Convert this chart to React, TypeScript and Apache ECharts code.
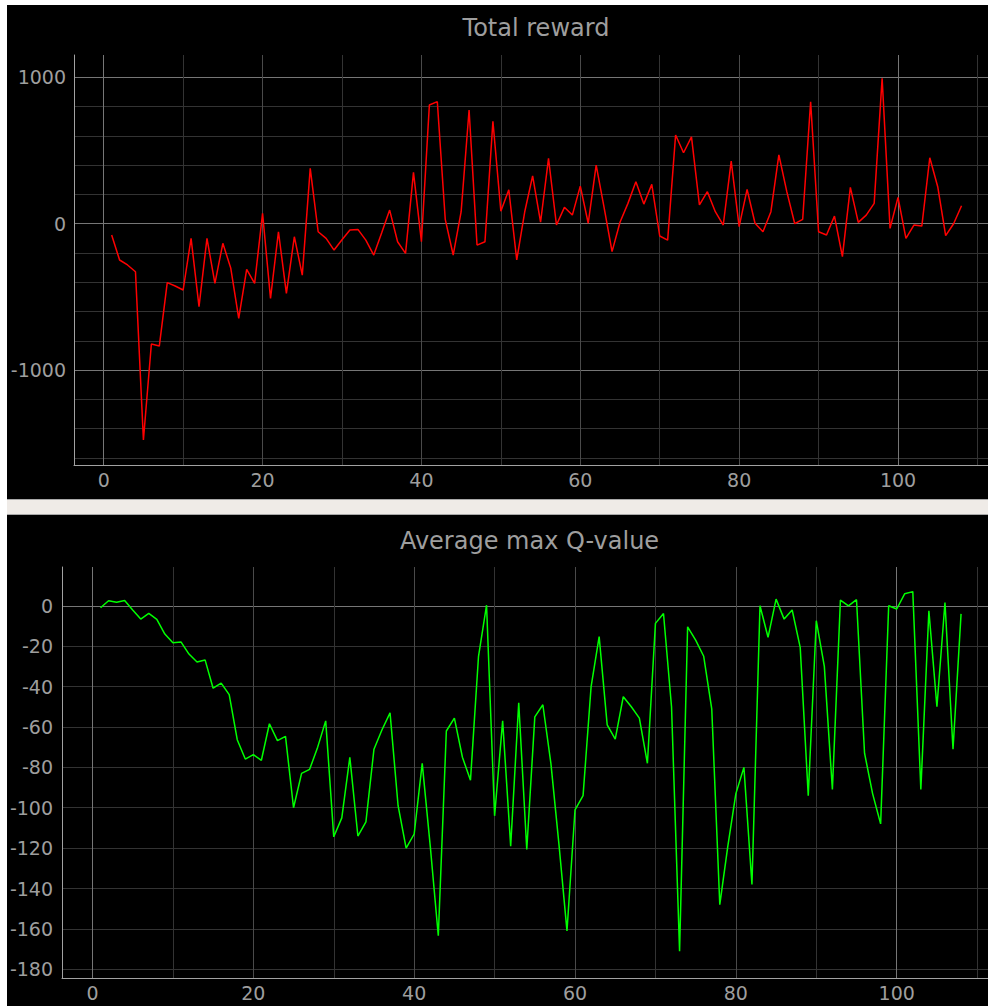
import React, { useEffect, useRef } from "react";
import * as echarts from "echarts";

// ---- data ----
const TOTAL_REWARD = [
  -77, -248, -282, -328, -1478, -822, -836, -403, -426, -453,
  -100, -567, -100, -408, -134, -305, -647, -312, -408, 71,
  -510, -55, -476, -89, -351, 378, -55, -100, -180, -110,
  -43, -39, -112, -214, -62, 93, -123, -203, 351, -123,
  811, 834, 30, -214, 82, 777, -146, -123, 700, 85,
  232, -248, 80, 327, 10, 446, -9, 112, 59, 257,
  3, 401, 110, -191, 10, 139, 287, 134, 269, -84,
  -112, 606, 485, 594, 128, 219, 82, -9, 428, -20,
  235, 3, -55, 82, 470, 219, 0, 30, 834, -55,
  -77, 52, -225, 248, 9, 59, 139, 993, -32, 180,
  -100, -9, -16, 451, 253, -82, 0, 123,
];

const AVG_MAX_Q = [
  -1, 2.5, 1.8, 2.6, -2.1, -6.6, -3.8, -6.7, -14, -18.3,
  -17.9, -23.9, -27.8, -26.8, -40.8, -38.3, -44, -66.3, -75.9, -73.7,
  -76.5, -58.4, -66.8, -64.7, -100, -83, -81, -70, -57, -114.4,
  -105, -75, -114, -107, -71, -61.4, -53, -99, -120, -113,
  -78, -119, -163.4, -62, -55.6, -75, -86.4, -25, 0.3, -104,
  -57, -119, -48, -120.7, -55, -49, -78, -118, -161, -101,
  -94, -40, -15.3, -59, -66, -45, -50, -55.6, -78, -8.7,
  -3.8, -50, -171, -10.4, -17, -25, -51, -148, -119, -93,
  -80, -138, 0, -15.6, 3.3, -6.6, -2.1, -20.6, -94, -7.4,
  -30, -91, 2.8, 0, 3, -73, -93, -108, 0, -1.6,
  6, 7, -91, -2.5, -50, 1.6, -71, -4,
];

const EPISODES = TOTAL_REWARD.map((_, i) => i + 1);

// tick labels
const X_LABELS = [0, 20, 40, 60, 80, 100];
const REWARD_Y_LABELS = [-1000, 0, 1000];
const Q_Y_LABELS = [0, -20, -40, -60, -80, -100, -120, -140, -160, -180];

// grid line levels
const X_GRID_BRIGHT = [0, 100];
const X_GRID_MEDIUM = [20, 40, 60, 80];
const X_GRID_DIM = [10, 30, 50, 70, 90, 110];
const REWARD_Y_GRID_BRIGHT = [-1000, 0, 1000];
const REWARD_Y_GRID_DIM = [-1600, -1400, -1200, -800, -600, -400, -200, 200, 400, 600, 800];
const Q_Y_GRID_BRIGHT = [0];
const Q_Y_GRID_DIM = [-20, -40, -60, -80, -100, -120, -140, -160, -180];

const FONT = '"DejaVu Sans", "Noto Sans", sans-serif';
const TEXT_COLOR = "#9e9e9e";
const AXIS_COLOR = "#a2a2a2";
const BRIGHT = "#767676";
const MEDIUM = "#4a4a4a";
const DIM = "#333333";

function hiddenAxis(gridIndex: number, pos: string, min: number, max: number, values: number[], color: string) {
  return {
    type: "value",
    gridIndex,
    position: pos,
    min,
    max,
    axisLine: { show: false },
    axisTick: { show: false, customValues: values },
    axisLabel: { show: false },
    splitLine: { show: true, lineStyle: { color, width: 1 } },
  };
}

function mainAxis(
  gridIndex: number,
  pos: string,
  min: number,
  max: number,
  labels: number[],
  brightLines: number[],
  margin: number
) {
  return {
    type: "value",
    gridIndex,
    position: pos,
    min,
    max,
    axisLine: { show: true, onZero: false, lineStyle: { color: AXIS_COLOR, width: 1 } },
    axisTick: { show: false, customValues: brightLines },
    axisLabel: {
      show: true,
      customValues: labels,
      formatter: (v: number) => String(v),
      color: TEXT_COLOR,
      fontFamily: FONT,
      fontSize: 19,
      margin,
      showMinLabel: true,
      showMaxLabel: true,
    },
    splitLine: { show: true, lineStyle: { color: BRIGHT, width: 1 } },
  };
}

export default function App() {
  const ref = useRef<HTMLDivElement>(null);

  useEffect(() => {
    if (!ref.current) return;
    const chart = echarts.init(ref.current, undefined, { renderer: "svg" });

    const rewardData = EPISODES.map((e, i) => [e, TOTAL_REWARD[i]]);
    const qData = EPISODES.map((e, i) => [e, AVG_MAX_Q[i]]);

    const RX = [-3.74, 111.33];
    const RY = [-1649, 1153];
    const QX = [-3.79, 111.35];
    const QY = [-184.3, 19.2];

    chart.setOption({
      animation: false,
      backgroundColor: "#000000",
      grid: [
        { left: 74, top: 55, width: 914, height: 410, outerBoundsMode: "none", containLabel: false },
        { left: 62, top: 567, width: 926, height: 411, outerBoundsMode: "none", containLabel: false },
      ],
      xAxis: [
        hiddenAxis(0, "bottom", RX[0], RX[1], X_GRID_DIM, DIM),
        hiddenAxis(0, "bottom", RX[0], RX[1], X_GRID_MEDIUM, MEDIUM),
        mainAxis(0, "bottom", RX[0], RX[1], X_LABELS, X_GRID_BRIGHT, 5),
        hiddenAxis(1, "bottom", QX[0], QX[1], X_GRID_DIM, DIM),
        hiddenAxis(1, "bottom", QX[0], QX[1], X_GRID_MEDIUM, MEDIUM),
        mainAxis(1, "bottom", QX[0], QX[1], X_LABELS, X_GRID_BRIGHT, 5),
      ],
      yAxis: [
        hiddenAxis(0, "left", RY[0], RY[1], REWARD_Y_GRID_DIM, DIM),
        mainAxis(0, "left", RY[0], RY[1], REWARD_Y_LABELS, REWARD_Y_GRID_BRIGHT, 8),
        hiddenAxis(1, "left", QY[0], QY[1], Q_Y_GRID_DIM, DIM),
        mainAxis(1, "left", QY[0], QY[1], Q_Y_LABELS, Q_Y_GRID_BRIGHT, 9),
      ],
      series: [
        {
          type: "line",
          name: "Total reward",
          xAxisIndex: 2,
          yAxisIndex: 1,
          data: rewardData,
          symbol: "none",
          showSymbol: false,
          clip: true,
          lineStyle: { color: "#ff0000", width: 1.5 },
          itemStyle: { color: "#ff0000" },
          z: 5,
        },
        {
          type: "line",
          name: "Average max Q-value",
          xAxisIndex: 5,
          yAxisIndex: 3,
          data: qData,
          symbol: "none",
          showSymbol: false,
          clip: true,
          lineStyle: { color: "#00ff00", width: 1.5 },
          itemStyle: { color: "#00ff00" },
          z: 5,
        },
      ],
      graphic: [
        { type: "rect", shape: { x: 0, y: 0, width: 7, height: 1006 }, style: { fill: "#ffffff" }, z: 10 },
        { type: "rect", shape: { x: 0, y: 0, width: 988, height: 5 }, style: { fill: "#ffffff" }, z: 10 },
        { type: "rect", shape: { x: 7, y: 499, width: 981, height: 16 }, style: { fill: "#efebe7" }, z: 10 },
        { type: "line", shape: { x1: 7, y1: 499.5, x2: 988, y2: 499.5 }, style: { stroke: "#a8a8a8", lineWidth: 1 }, z: 11 },
        { type: "line", shape: { x1: 7, y1: 514.5, x2: 988, y2: 514.5 }, style: { stroke: "#a8a8a8", lineWidth: 1 }, z: 11 },
        {
          type: "text",
          x: 536,
          y: 28,
          z: 11,
          style: {
            text: "Total reward",
            fill: TEXT_COLOR,
            font: `24px ${FONT}`,
            fontSize: 24,
            fontFamily: FONT,
            textAlign: "center",
            textVerticalAlign: "middle",
            align: "center",
            verticalAlign: "middle",
          },
        },
        {
          type: "text",
          x: 529.5,
          y: 541,
          z: 11,
          style: {
            text: "Average max Q-value",
            fill: TEXT_COLOR,
            font: `24px ${FONT}`,
            fontSize: 24,
            fontFamily: FONT,
            textAlign: "center",
            textVerticalAlign: "middle",
            align: "center",
            verticalAlign: "middle",
          },
        },
      ],
    });

    return () => chart.dispose();
  }, []);

  return (
    <div
      ref={ref}
      style={{ position: "absolute", left: 0, top: 0, width: 988, height: 1006 }}
    />
  );
}
